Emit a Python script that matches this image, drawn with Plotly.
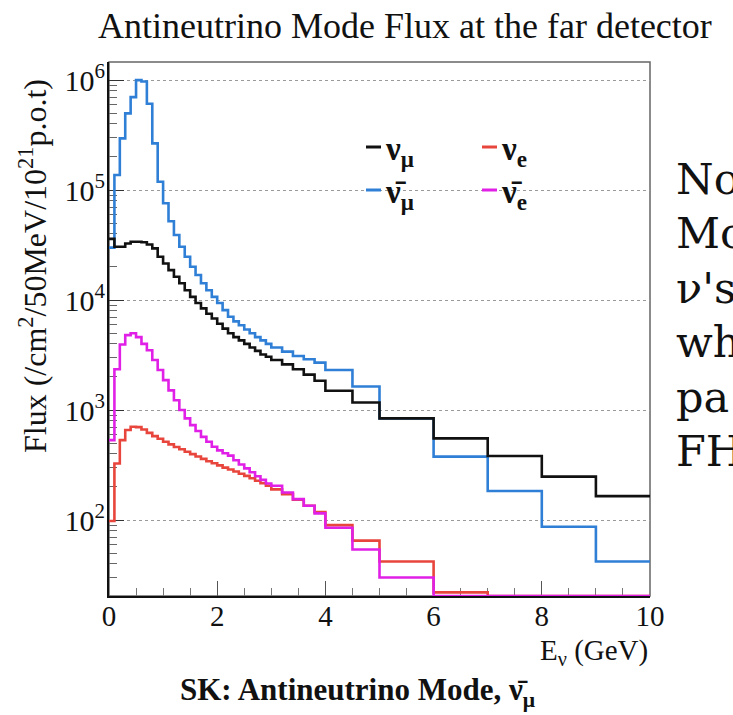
import plotly.graph_objects as go

# Bin edges (GeV): 0.1 GeV up to 3, 0.2 GeV up to 4, 0.5 GeV up to 5, 1 GeV up to 10
bin_edges = ([round(0.1 * i, 1) for i in range(31)]
             + [3.2, 3.4, 3.6, 3.8, 4.0, 4.5, 5.0, 6.0, 7.0, 8.0, 9.0, 10.0])

# Flux per bin (/cm^2/50MeV/10^21 p.o.t)
numu = [3.6e4, 3.05e4, 3.05e4, 3.27e4, 3.39e4, 3.39e4, 3.35e4, 3.2e4, 2.95e4, 2.48e4,
        2.15e4, 1.87e4, 1.63e4, 1.42e4, 1.23e4, 1.07e4, 9.4e3, 8.4e3, 7.5e3, 6.8e3,
        6.1e3, 5.5e3, 5.0e3, 4.6e3, 4.3e3, 4.0e3, 3.7e3, 3.45e3, 3.2e3, 3.05e3,
        2.85e3, 2.6e3, 2.35e3, 2.1e3, 1.85e3,
        1.5e3, 1.17e3,
        840, 553, 382, 248, 165]

numubar = [3.0e4, 1.37e5, 2.95e5, 4.98e5, 7.0e5, 1.0e6, 9.7e5, 6.1e5, 2.66e5, 1.19e5,
           7.6e4, 5.2e4, 3.9e4, 3.05e4, 2.48e4, 2.01e4, 1.69e4, 1.42e4, 1.23e4, 1.07e4,
           9.4e3, 8.1e3, 7.05e3, 6.4e3, 5.9e3, 5.4e3, 5.0e3, 4.6e3, 4.3e3, 4.0e3,
           3.7e3, 3.4e3, 3.1e3, 2.9e3, 2.7e3,
           2.31e3, 1.64e3,
           840, 377, 184, 87, 42]

nue = [98, 327, 533, 658, 705, 700, 665, 620, 580, 548,
       515, 488, 462, 440, 418, 398, 378, 360, 343, 328,
       314, 300, 288, 276, 264, 252, 240, 228, 216, 205,
       190, 172, 153, 135, 118,
       90, 65,
       42, 22, 12, 8, 5]

nuebar = [533, 2.35e3, 3.95e3, 4.8e3, 5.0e3, 4.6e3, 4.0e3, 3.5e3, 2.85e3, 2.31e3,
          1.87e3, 1.51e3, 1.23e3, 1.0e3, 840, 730, 646, 571, 515, 464,
          430, 405, 385, 350, 320, 295, 272, 250, 232, 215,
          205, 178, 155, 135, 115,
          85, 54,
          30, 15, 10, 8, 5]

y_floor = 20.4
y_top = 1.46e6

series = [
    ("\u03bd\u0304<sub>\u03bc</sub>", numubar, "#2f7fd6"),
    ("\u03bd<sub>\u03bc</sub>", numu, "#111111"),
    ("\u03bd<sub>e</sub>", nue, "#e8453c"),
    ("\u03bd\u0304<sub>e</sub>", nuebar, "#e020e6"),
]

fig = go.Figure()
for name, vals, color in series:
    shown = [max(v, y_floor) for v in vals] + [max(vals[-1], y_floor)]
    fig.add_trace(go.Scatter(
        x=bin_edges, y=shown, mode="lines", name=name,
        line=dict(color=color, width=2.6, shape="hv"),
        showlegend=False, hoverinfo="skip",
    ))

# plot-area geometry in pixels
W_FIG, H_FIG = 733, 715
L, R, T, B = 109, 650, 62, 596


def px(xp):
    return (xp - L) / (R - L)


def py(yp):
    return (B - yp) / (B - T)


serif = "Liberation Serif, Times New Roman, serif"
ink = "#111111"

decades = [1e2, 1e3, 1e4, 1e5, 1e6]
minor_y = [m * d for d in [10, 100, 1000, 1e4, 1e5, 1e6] for m in range(2, 10)]
minor_y = [v for v in minor_y if y_floor <= v <= y_top]

fig.update_layout(
    width=W_FIG, height=H_FIG,
    margin=dict(l=L, r=W_FIG - R, t=T, b=H_FIG - B, pad=0),
    paper_bgcolor="white", plot_bgcolor="white",
    font=dict(family=serif, color=ink, size=29),
    xaxis=dict(
        range=[0, 10], tickvals=[0, 2, 4, 6, 8, 10], ticktext=["0", "2", "4", "6", "8", "10"],
        ticks="inside", ticklen=15, tickwidth=1.2, tickcolor="#555",
        minor=dict(dtick=0.5, tick0=0, ticks="inside", ticklen=8, tickwidth=1, tickcolor="#777"),
        showgrid=False, zeroline=False,
        showline=True, linecolor="#111", linewidth=2, mirror=False,
        tickfont=dict(family=serif, size=29, color=ink),
        ticklabelstandoff=-7,
        layer="below traces",
    ),
    yaxis=dict(
        type="log", range=[1.3096, 6.1644],
        tickvals=decades,
        ticktext=["10<sup>2</sup>", "10<sup>3</sup>", "10<sup>4</sup>", "10<sup>5</sup>", "10<sup>6</sup>"],
        ticks="inside", ticklen=15, tickwidth=1.2, tickcolor="#333",
        minor=dict(tickvals=minor_y, ticks="inside", ticklen=8, tickwidth=1, tickcolor="#666"),
        showgrid=True, gridcolor="#9a9a9a", griddash="dot", gridwidth=1.2,
        zeroline=False, showline=True, linecolor="#111", linewidth=2, mirror=False,
        tickfont=dict(family=serif, size=30, color=ink),
        ticklabelstandoff=-4,
        layer="below traces",
    ),
)

# frame on top and right
fig.add_shape(type="rect", xref="paper", yref="paper", x0=0, x1=1, y0=0, y1=1,
              line=dict(color="#666", width=1.5), layer="below")

ann = []
# title
ann.append(dict(x=px(405), y=py(26), text="Antineutrino Mode Flux at the far detector",
                font=dict(family=serif, size=36, color=ink), xanchor="center", yanchor="middle"))
# y axis title
ann.append(dict(x=px(33), y=py(266), text="Flux (/cm<sup>2</sup>/50MeV/10<sup>21</sup>p.o.t)",
                textangle=-90, font=dict(family=serif, size=32, color=ink),
                xanchor="center", yanchor="middle"))
# x axis title
ann.append(dict(x=1.0, y=py(652), text="E<sub>\u03bd</sub> (GeV)",
                font=dict(family=serif, size=29, color=ink), xanchor="right", yanchor="middle"))
# caption
ann.append(dict(x=px(358), y=py(692), text="<b>SK: Antineutrino Mode, \u03bd\u0304<sub>\u03bc</sub></b>",
                font=dict(family=serif, size=31, color=ink), xanchor="center", yanchor="middle"))

# legend entries: short coloured line + label, two columns
legend_pos = {
    "\u03bd<sub>\u03bc</sub>": (366, 149),
    "\u03bd<sub>e</sub>": (482, 149),
    "\u03bd\u0304<sub>\u03bc</sub>": (366, 192),
    "\u03bd\u0304<sub>e</sub>": (482, 192),
}
for name, vals, color in series:
    xp, yp = legend_pos[name]
    fig.add_shape(type="line", xref="paper", yref="paper",
                  x0=px(xp), x1=px(xp + 15), y0=py(yp - 2), y1=py(yp - 2),
                  line=dict(color=color, width=3))
    ann.append(dict(x=px(xp + 17), y=py(yp + 2), text=f"<b>{name}</b>",
                    font=dict(family=serif, size=33, color=ink),
                    xanchor="left", yanchor="middle"))

# side note text
side_lines = ["No", "Mo", "\u03bd's", "wh", "pa", "FH"]
for i, s in enumerate(side_lines):
    ann.append(dict(x=px(674), y=py(179 + 54.4 * i), text=s,
                    font=dict(family="DejaVu Serif, serif", size=43, color="#111"),
                    xanchor="left", yanchor="middle"))

for a in ann:
    a.update(xref="paper", yref="paper", showarrow=False)
fig.update_layout(annotations=ann)

fig.write_html("out.html")
